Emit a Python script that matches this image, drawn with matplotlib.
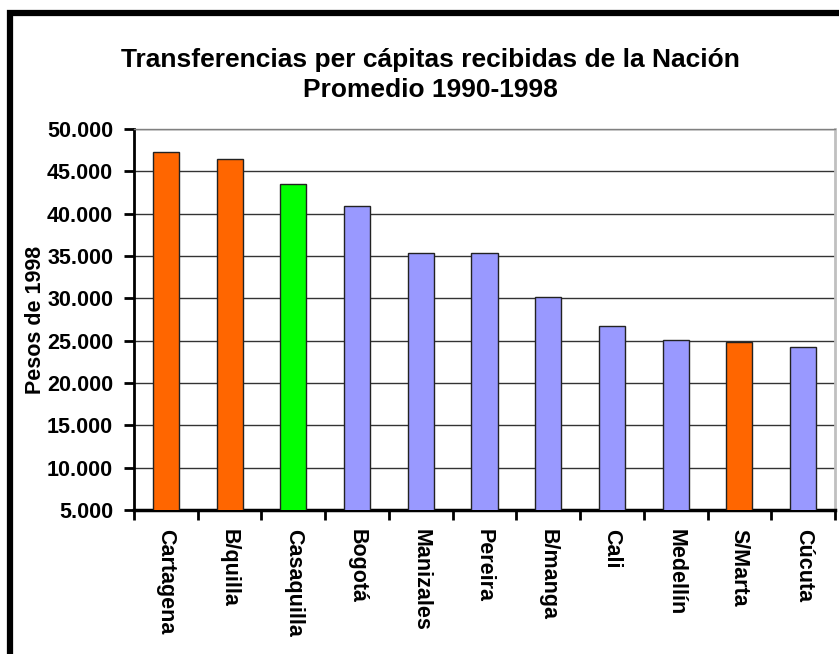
import numpy as np
import matplotlib
matplotlib.use('Agg')
import matplotlib.pyplot as plt
from matplotlib.patches import Rectangle

plt.rcParams['font.family'] = ['Liberation Sans', 'DejaVu Sans']
plt.rcParams['font.weight'] = 'bold'

# datos
ciudades = ['Cartagena', 'B/quilla', 'Casaquilla', 'Bogotá', 'Manizales', 'Pereira',
            'B/manga', 'Cali', 'Medellín', 'S/Marta', 'Cúcuta']
valores = [47300, 46500, 43500, 40900, 35400, 35400, 30200, 26700, 25100, 24900, 24200]
colores = ['#FF6600', '#FF6600', '#00FF00', '#9999FF', '#9999FF', '#9999FF',
           '#9999FF', '#9999FF', '#9999FF', '#FF6600', '#9999FF']
yticks = [5000, 10000, 15000, 20000, 25000, 30000, 35000, 40000, 45000, 50000]

W, H = 839, 654
fig = plt.figure(figsize=(W / 100, H / 100), dpi=100)
fig.patch.set_facecolor('white')
ax = fig.add_axes([134 / W, 1 - 510 / H, (835 - 134) / W, (510 - 129) / H])

x = np.arange(len(ciudades))
ax.set_axisbelow(True)
ax.bar(x, valores, width=0.41, color=colores, edgecolor='#222222', linewidth=1, zorder=3)

ax.set_xlim(-0.5, len(ciudades) - 0.5)
ax.set_ylim(5000, 50000)
ax.set_yticks(yticks)
ax.set_yticklabels([f'{v:,.0f}'.replace(',', '.') for v in yticks])
ax.yaxis.grid(True, color='#333333', linewidth=1)

# ticks de categoria en los limites, etiquetas en el centro
ax.set_xticks(np.arange(-0.5, len(ciudades), 1.0))
ax.set_xticklabels([])
ax.set_xticks(x, minor=True)
ax.set_xticklabels(ciudades, minor=True, rotation=270, ha='center', va='top')
ax.tick_params(axis='x', which='major', direction='out', length=7, width=2, color='black')
ax.tick_params(axis='x', which='minor', length=0, pad=14, labelsize=15.5)
ax.tick_params(axis='y', direction='out', length=7, width=2, pad=8, labelsize=15.5)

ax.spines['left'].set_linewidth(2)
ax.spines['bottom'].set_linewidth(2.5)
ax.spines['top'].set_color('#808080')
ax.spines['top'].set_linewidth(1)
ax.spines['right'].set_color('#C0C0C0')
ax.spines['right'].set_linewidth(2)

ax.set_ylabel('Pesos de 1998', fontsize=15.5, fontweight='bold', labelpad=1)

fig.text(430 / W, 1 - 75 / H, 'Transferencias per cápitas recibidas de la Nación\nPromedio 1990-1998',
         ha='center', va='center', fontsize=19, fontweight='bold', linespacing=1.32)

# marco negro
fig.add_artist(Rectangle((10 / W, -0.1), 1.2, 1.1 - 13 / H, transform=fig.transFigure,
                         fill=False, edgecolor='black', linewidth=4.5))

fig.savefig('out.png', dpi=100)
